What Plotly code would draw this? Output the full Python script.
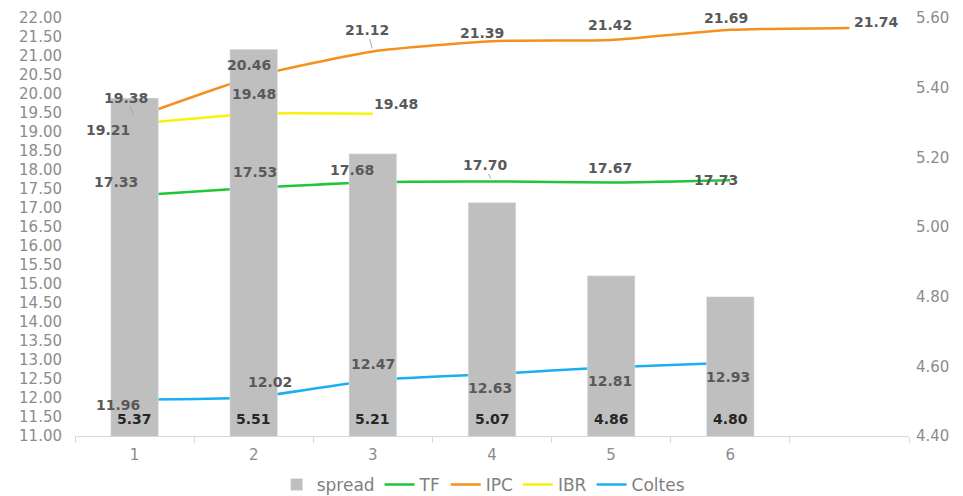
import plotly.graph_objects as go

cats = [1, 2, 3, 4, 5, 6, 7]
spread = [5.37, 5.51, 5.21, 5.07, 4.86, 4.80]
tf = [17.33, 17.53, 17.68, 17.70, 17.67, 17.73]
ipc = [19.38, 20.46, 21.12, 21.39, 21.42, 21.69, 21.74]
ibr = [19.21, 19.48, 19.48]
coltes = [11.96, 12.02, 12.47, 12.63, 12.81, 12.93]
tick_labels = ["1", "2", "3", "4", "5", "6"]

# label offsets in pixels (dx, dy with dy positive = down), mimicking the Excel placement
off_tf = [(-19, -13), (1, -16), (-21, -12), (-7, -16), (-1, -15), (-14, 0)]
off_ipc = [(-9, -20), (-5, -12), (-6, -21), (-10, -8), (-1, -15), (-4, -12), (27, -6)]
off_ibr = [(-27, 6), (0, -20), (23, -10)]
off_coltes = [(-17, 5), (16, -15), (0, -16), (-2, 14), (-1, 14), (-2, 14)]
# small leader lines Excel draws for labels moved off their point: (series, index)
leaders = [("IPC", 0), ("IPC", 2), ("TF", 3)]

GRAY_TXT = "#595959"
AXIS_TXT = "#8c8c8c"
FONT = "DejaVu Sans"

fig = go.Figure()
fig.add_trace(go.Bar(x=cats[:len(spread)], y=spread, name="spread", marker_color="#bfbfbf",
                     width=0.4, yaxis="y2"))

series = [("TF", tf, "#1fc63a", off_tf), ("IPC", ipc, "#f5901e", off_ipc),
          ("IBR", ibr, "#f7f20a", off_ibr), ("Coltes", coltes, "#1aaef2", off_coltes)]
for name, vals, color, offs in series:
    xs = cats[:len(vals)]
    fig.add_trace(go.Scatter(x=xs, y=vals, name=name, mode="lines",
                             line=dict(color=color, width=2.5, shape="spline", smoothing=0.5)))
    for i, (x, v, (dx, dy)) in enumerate(zip(xs, vals, offs)):
        fig.add_annotation(x=x, y=v, xref="x", yref="y", text=f"{v:.2f}", showarrow=False,
                           xshift=dx, yshift=-dy,
                           font=dict(family=FONT, size=14, color=GRAY_TXT, weight="bold"))
        if (name, i) in leaders:
            fig.add_annotation(x=x, y=v, xref="x", yref="y", text="", showarrow=True,
                               arrowhead=0, arrowwidth=1, arrowcolor="#a6a6a6",
                               ax=dx * 0.6, ay=dy + 7, standoff=3)

for x, v in zip(cats, spread):
    fig.add_annotation(x=x, y=4.4, xref="x", yref="y2", text=f"{v:.2f}", showarrow=False,
                       yanchor="bottom", yshift=7,
                       font=dict(family=FONT, size=14, color="#262626", weight="bold"))

fig.update_layout(
    width=963, height=496,
    margin=dict(l=67, r=62, t=10, b=68, autoexpand=False),
    paper_bgcolor="white", plot_bgcolor="white",
    font=dict(family=FONT, size=15, color=AXIS_TXT),
    showlegend=True,
    legend=dict(orientation="h", x=0.49, xanchor="center", y=-0.117, yanchor="middle",
                font=dict(size=17, color="#7f7f7f"), itemwidth=30, tracegroupgap=0),
    xaxis=dict(range=[0.5, 7.5], tickvals=cats[:6], ticktext=tick_labels, showgrid=False,
               zeroline=False, showline=True, linecolor="#d9d9d9", linewidth=1,
               ticks="", tickfont=dict(size=15, color=AXIS_TXT), ticklabelstandoff=5,
               minor=dict(tickvals=[k + 0.5 for k in range(0, 8)], ticks="outside",
                          ticklen=6, tickcolor="#d9d9d9")),
    yaxis=dict(range=[11, 22], dtick=0.5, tickformat=".2f", showgrid=False, zeroline=False,
               showline=False, tickfont=dict(size=15, color=AXIS_TXT),
               ticklabeloverflow="allow", ticklabelstandoff=12),
    yaxis2=dict(range=[4.4, 5.6], dtick=0.2, tickformat=".2f", overlaying="y", side="right",
                showgrid=False, zeroline=False, showline=False,
                tickfont=dict(size=15, color=AXIS_TXT),
                ticklabeloverflow="allow", ticklabelstandoff=6),
)

fig.write_html("out.html")
